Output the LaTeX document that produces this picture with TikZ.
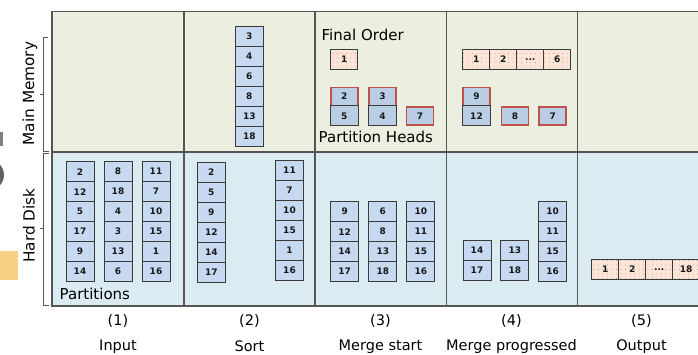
\documentclass[tikz,border=0pt]{standalone}
\usepackage{fontspec}
\setmainfont{DejaVu Sans}
\usetikzlibrary{patterns.meta}
\definecolor{memfill}{HTML}{ECEFDF}
\definecolor{diskfill}{HTML}{DAECF2}
\definecolor{framec}{HTML}{555555}
\definecolor{cellfill}{HTML}{C6D9F1}
\definecolor{headfill}{HTML}{B9CDE5}
\definecolor{cellline}{HTML}{3A3A3A}
\definecolor{redc}{HTML}{C0504D}
\definecolor{peach}{HTML}{FCE4D6}
\definecolor{orangeblk}{HTML}{F8D283}
\definecolor{greyblk}{HTML}{5E6368}
\newcommand\cellstack[4]{% name, x centre, top edge, values
  \foreach \v [count=\i] in {#4} \node[cell] (#1-\i) at (#2, #3+20*\i-10) {\v};}
\begin{document}
\begin{tikzpicture}[x=1pt,y=-1pt,
  cell/.style={draw=cellline, line width=1pt, fill=cellfill, minimum width=28pt,
    minimum height=20pt, inner sep=0pt, text=black!90, font=\bfseries\fontsize{9}{10}\selectfont},
  headcell/.style={cell, fill=headfill},
  redcell/.style={headcell, draw=redc, line width=1.7pt, minimum width=27pt, minimum height=18pt},
  fincell/.style={cell, fill=peach, minimum width=27pt,
    postaction={pattern={Dots[radius=0.45pt, distance=4.5pt]}, pattern color=gray}},
  lbl/.style={font=\fontsize{14.5}{16}\selectfont, inner sep=0pt},
  frame/.style={draw=framec, line width=1.4pt},
  brace/.style={draw=framec, line width=0.8pt}]
\useasboundingbox (0,0) rectangle (698,355);
\clip (0,0) rectangle (698,355);

% partly visible shapes at the left edge
\fill[greyblk!80] (0,132) rectangle (2.5,146);
\fill[greyblk] (-11,175) circle (15);
\fill[orangeblk] (0,250.5) rectangle (17.5,280);

% memory and disk bands
\fill[memfill] (52,11.5) rectangle (710,152);
\fill[diskfill] (52,152) rectangle (710,306);
\draw[frame] (52,11.5) rectangle (710,306);
\draw[frame] (52,152) -- (710,152);
\foreach \x in {184,315,446.5,577.5} \draw[frame] (\x,11.5) -- (\x,306);

% braces and side labels
\draw[brace] (48,37.5) -- (43,37.5) -- (43,151.5) -- (49,151.5);
\draw[brace] (43,94) -- (40,94);
\draw[brace] (49,153.5) -- (43,153.5) -- (43,305) -- (49,305);
\draw[brace] (43,228) -- (40,228);
\node[lbl, font=\fontsize{15.3}{16}\selectfont, rotate=90] (mm) at (30,93.5) {Main Memory};
\node[lbl, font=\fontsize{15.3}{16}\selectfont, rotate=90] (hd) at (29,225.5) {Hard Disk};

% (1) input partitions
\cellstack{inA}{80}{161.7}{2,12,5,17,9,14}
\cellstack{inB}{118}{161.7}{8,18,4,3,13,6}
\cellstack{inC}{156}{161.7}{11,7,10,15,1,16}
\node[lbl, font=\fontsize{15}{16}\selectfont, anchor=west] (parts) at (59.5,293.5) {Partitions};

% (2) sort
\cellstack{srtM}{249.3}{26.5}{3,4,6,8,13,18}
\cellstack{srtA}{211.3}{162.3}{2,5,9,12,14,17}
\cellstack{srtC}{289.5}{160.7}{11,7,10,15,1,16}

% (3) merge start
\node[lbl, font=\fontsize{15}{16}\selectfont, anchor=west] (fo) at (321.5,35) {Final Order};
\node[fincell] (f3-1) at (344.2,59.3) {1};
\node[redcell] (h3a) at (344.2,96.5) {2};
\node[headcell] (h3b) at (344.2,116) {5};
\node[redcell] (h3c) at (382.5,96.5) {3};
\node[headcell] (h3d) at (382.5,116) {4};
\node[redcell] (h3e) at (420,116.3) {7};
\node[lbl, font=\fontsize{15}{16}\selectfont, anchor=west] (ph) at (318.5,137) {Partition Heads};
\cellstack{m3A}{344.7}{201.7}{9,12,14,17}
\cellstack{m3B}{382.8}{201.7}{6,8,13,18}
\cellstack{m3C}{420.8}{201.7}{10,11,15,16}

% (4) merge progressed
\node[fincell] (f4-1) at (476.2,59.3) {1};
\node[fincell] (f4-2) at (503.2,59.3) {2};
\node[fincell] (f4-3) at (530.2,59.3) {...};
\node[fincell] (f4-4) at (557.2,59.3) {6};
\node[redcell] (h4a) at (476.5,96.5) {9};
\node[headcell] (h4b) at (476.5,116) {12};
\node[redcell] (h4c) at (515,116.3) {8};
\node[redcell] (h4d) at (552.7,116.3) {7};
\cellstack{m4A}{477}{240.7}{14,17}
\cellstack{m4B}{514.8}{240.7}{13,18}
\cellstack{m4C}{552.7}{201.7}{10,11,15,16}

% (5) output
\node[fincell] (o-1) at (605.2,269.2) {1};
\node[fincell] (o-2) at (632.2,269.2) {2};
\node[fincell] (o-3) at (659.2,269.2) {...};
\node[fincell] (o-4) at (686.2,269.2) {18};

% step captions
\foreach \x/\n/\t [count=\k] in {118/(1)/Input, 249.5/(2)/Sort, 380.5/(3)/Merge start,
    511.5/(4)/Merge progressed, 641.5/(5)/Output} {
  \node[lbl] (num\k) at (\x,321) {\n};
  \node[lbl] (cap\k) at (\x,346.5) {\t};
}
\end{tikzpicture}
\end{document}
